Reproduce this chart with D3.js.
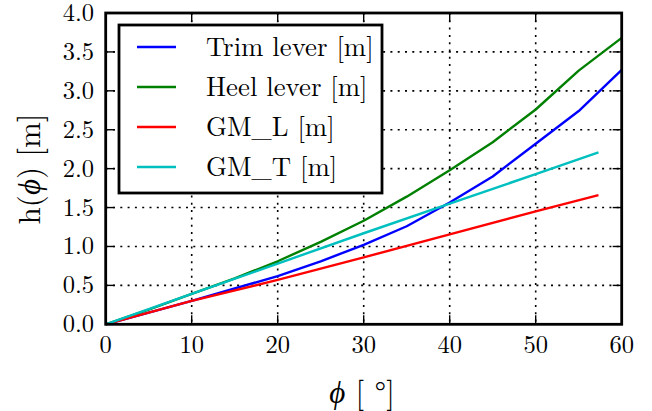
<!DOCTYPE html>
<html>
<head>
<meta charset="utf-8">
<script src="https://cdn.jsdelivr.net/npm/d3@7"></script>
<style>
  html, body { margin: 0; padding: 0; background: #fff; }
</style>
</head>
<body>
<svg id="chart" width="652" height="411"></svg>
<script>
// Heel angle phi in degrees
const phiTrim = [0, 5, 10, 15, 20, 25, 30, 35, 40, 45, 50, 55, 60];
const trimLever = [0, 0.15, 0.30, 0.46, 0.62, 0.81, 1.02, 1.26, 1.565, 1.90, 2.32, 2.74, 3.27];

const phiHeel = [0, 5, 10, 15, 20, 25, 30, 35, 40, 45, 50, 55, 60];
const heelLever = [0, 0.19, 0.39, 0.59, 0.81, 1.06, 1.33, 1.64, 1.98, 2.34, 2.76, 3.26, 3.68];

const phiGM = [0, 5, 10, 20, 30, 40, 50, 57.3];
const gmL = [0, 0.15, 0.30, 0.57, 0.86, 1.155, 1.45, 1.66];
const gmT = [0, 0.195, 0.39, 0.78, 1.17, 1.55, 1.93, 2.21];

const seriesNames = ["Trim lever [m]", "Heel lever [m]", "GM_L [m]", "GM_T [m]"];
const seriesColors = ["#0000ff", "#008000", "#ff0000", "#00bfbf"];

const xTicks = [0, 10, 20, 30, 40, 50, 60];
const yTicks = [0, 0.5, 1.0, 1.5, 2.0, 2.5, 3.0, 3.5, 4.0];

const series = [
  { x: phiTrim, y: trimLever },
  { x: phiHeel, y: heelLever },
  { x: phiGM, y: gmL },
  { x: phiGM, y: gmT }
];

const FONT = "'Latin Modern Roman', 'Liberation Serif', serif";

const svg = d3.select("#chart");
const plotL = 105.7, plotR = 621.7, plotT = 13, plotB = 324.3;

const x = d3.scaleLinear().domain([0, 60]).range([plotL, plotR]);
const y = d3.scaleLinear().domain([0, 4]).range([plotB, plotT]);

// dotted grid
const grid = svg.append("g");
grid.selectAll("line.gx").data(xTicks.slice(1, -1)).join("line")
  .attr("x1", d => x(d)).attr("x2", d => x(d))
  .attr("y1", plotT).attr("y2", plotB)
  .attr("stroke", "#000").attr("stroke-width", 1.6)
  .attr("stroke-dasharray", "2,5.3");
grid.selectAll("line.gy").data(yTicks.slice(1, -1)).join("line")
  .attr("y1", d => y(d)).attr("y2", d => y(d))
  .attr("x1", plotL).attr("x2", plotR)
  .attr("stroke", "#000").attr("stroke-width", 1.6)
  .attr("stroke-dasharray", "2,5.3");

// inward ticks on all four sides
const tickLen = 9;
const ticks = svg.append("g").attr("stroke", "#000").attr("stroke-width", 1.4);
xTicks.forEach(t => {
  ticks.append("line").attr("x1", x(t)).attr("x2", x(t)).attr("y1", plotB).attr("y2", plotB - tickLen);
  ticks.append("line").attr("x1", x(t)).attr("x2", x(t)).attr("y1", plotT).attr("y2", plotT + tickLen);
});
yTicks.forEach(t => {
  ticks.append("line").attr("y1", y(t)).attr("y2", y(t)).attr("x1", plotL).attr("x2", plotL + tickLen);
  ticks.append("line").attr("y1", y(t)).attr("y2", y(t)).attr("x1", plotR).attr("x2", plotR - tickLen);
});

// data lines
const line = d3.line().x(d => x(d[0])).y(d => y(d[1]));
const plot = svg.append("g");
series.forEach((s, i) => {
  plot.append("path")
    .datum(s.x.map((v, j) => [v, s.y[j]]))
    .attr("d", line)
    .attr("fill", "none")
    .attr("stroke", seriesColors[i])
    .attr("stroke-width", 2.4)
    .attr("stroke-linejoin", "round");
});

// frame
svg.append("rect")
  .attr("x", plotL).attr("y", plotT)
  .attr("width", plotR - plotL).attr("height", plotB - plotT)
  .attr("fill", "none").attr("stroke", "#000").attr("stroke-width", 2.8);

// tick labels
const labels = svg.append("g").attr("font-family", FONT).attr("font-size", 24.5).attr("fill", "#000");
labels.selectAll("text.xl").data(xTicks).join("text")
  .attr("x", d => x(d)).attr("y", 353)
  .attr("text-anchor", "middle")
  .text(d => d3.format("d")(d));
labels.selectAll("text.yl").data(yTicks).join("text")
  .attr("x", 94).attr("y", d => y(d) + 8)
  .attr("text-anchor", "end")
  .text(d => d3.format(".1f")(d));

// axis titles
const xt = svg.append("text")
  .attr("x", 362).attr("y", 403)
  .attr("text-anchor", "middle")
  .attr("font-family", FONT)
  .attr("font-size", 31).attr("fill", "#000");
xt.append("tspan").attr("font-style", "italic").text("ϕ");
xt.append("tspan").text(" [ °]");

const yt = svg.append("text")
  .attr("transform", "translate(40,169) rotate(-90)")
  .attr("text-anchor", "middle")
  .attr("font-family", FONT)
  .attr("font-size", 31).attr("fill", "#000");
yt.append("tspan").text("h(");
yt.append("tspan").attr("font-style", "italic").text("ϕ");
yt.append("tspan").text(") [m]");

// legend
const lg = svg.append("g");
lg.append("rect")
  .attr("x", 119).attr("y", 25)
  .attr("width", 263).attr("height", 168)
  .attr("fill", "#fff").attr("stroke", "#000").attr("stroke-width", 2.8);
seriesNames.forEach((name, i) => {
  const cy = 47 + i * 40;
  lg.append("line")
    .attr("x1", 137).attr("x2", 176).attr("y1", cy).attr("y2", cy)
    .attr("stroke", seriesColors[i]).attr("stroke-width", 2.4);
  lg.append("text")
    .attr("x", 206).attr("y", cy + 9)
    .attr("font-family", FONT)
    .attr("font-size", 26.8).attr("fill", "#000")
    .text(name);
});
</script>
</body>
</html>
